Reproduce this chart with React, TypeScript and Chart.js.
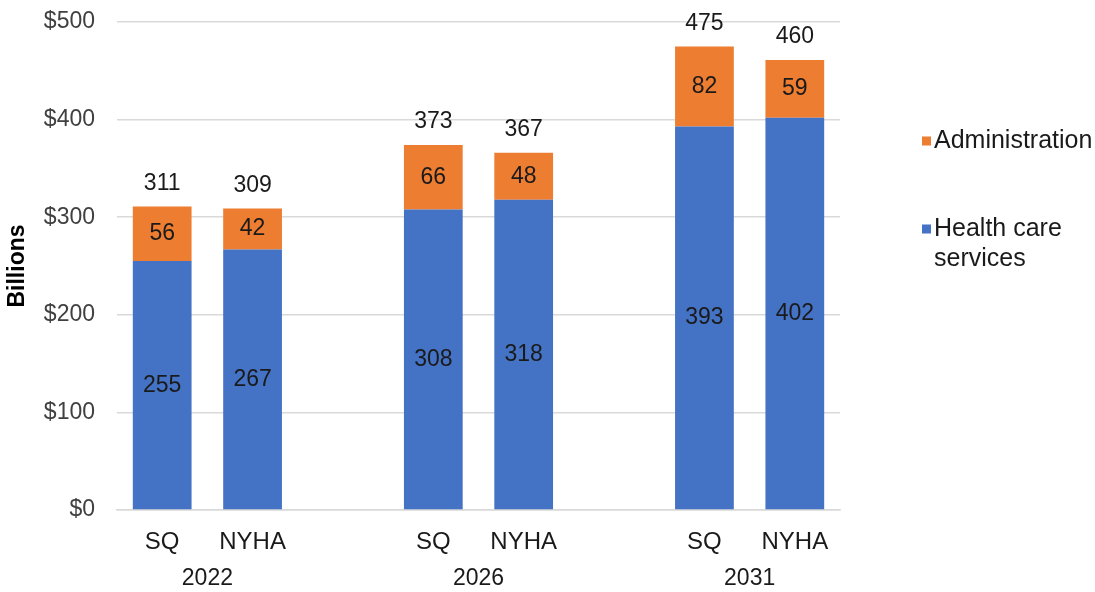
import React, { useEffect, useRef } from 'react';
import { Chart, registerables } from 'chart.js';

Chart.register(...registerables);

const categories = ['SQ', 'NYHA', '', 'SQ', 'NYHA', '', 'SQ', 'NYHA'];
const years = ['2022', '2026', '2031'];
const yearSlots = [[0, 1], [3, 4], [6, 7]];
const healthCare = [255, 267, null, 308, 318, null, 393, 402];
const administration = [56, 42, null, 66, 48, null, 82, 59];
const totals = [311, 309, null, 373, 367, null, 475, 460];
const yTicks = [0, 100, 200, 300, 400, 500];

const BLUE = '#4472C4';
const ORANGE = '#ED7D31';
const FONT = '"Liberation Sans", Arial, sans-serif';
const TEXT = '#1a1a1a';

export default function App() {
  const ref = useRef<HTMLCanvasElement>(null);

  useEffect(() => {
    const canvas = ref.current!;

    const labelsPlugin = {
      id: 'labels',
      afterDatasetsDraw(chart: any) {
        const ctx = chart.ctx;
        ctx.save();
        ctx.font = `23px ${FONT}`;
        ctx.fillStyle = TEXT;
        ctx.textAlign = 'center';
        ctx.textBaseline = 'middle';
        chart.data.datasets.forEach((ds: any, di: number) => {
          const meta = chart.getDatasetMeta(di);
          meta.data.forEach((bar: any, i: number) => {
            const v = ds.data[i];
            if (v == null) return;
            const p = bar.getProps(['x', 'y', 'base'], true);
            ctx.fillText(String(v), p.x, (p.y + p.base) / 2);
          });
        });
        const topMeta = chart.getDatasetMeta(1);
        totals.forEach((t, i) => {
          if (t == null) return;
          const p = topMeta.data[i].getProps(['x', 'y'], true);
          ctx.fillText(String(t), p.x, p.y - 23);
        });
        const xs = chart.scales.x;
        years.forEach((yr, k) => {
          const [a, b] = yearSlots[k];
          const cx = (xs.getPixelForValue(a) + xs.getPixelForValue(b)) / 2;
          ctx.fillText(yr, cx, 579);
        });
        ctx.restore();
      },
      afterDraw(chart: any) {
        const ctx = chart.ctx;
        ctx.save();
        ctx.font = `25px ${FONT}`;
        ctx.textAlign = 'left';
        ctx.textBaseline = 'middle';
        const items = [
          { color: ORANGE, lines: ['Administration'], y: 141 },
          { color: BLUE, lines: ['Health care', 'services'], y: 229 },
        ];
        items.forEach((it) => {
          ctx.fillStyle = it.color;
          ctx.fillRect(922, it.y - 4.5, 9, 9);
          ctx.fillStyle = TEXT;
          it.lines.forEach((ln, j) => ctx.fillText(ln, 934, it.y + j * 30));
        });
        ctx.restore();
      },
    };

    const chart = new Chart(canvas, {
      type: 'bar',
      data: {
        labels: categories,
        datasets: [
          {
            label: 'Health care services',
            data: healthCare,
            backgroundColor: BLUE,
            barPercentage: 0.65,
            categoryPercentage: 1,
          },
          {
            label: 'Administration',
            data: administration,
            backgroundColor: ORANGE,
            barPercentage: 0.65,
            categoryPercentage: 1,
          },
        ],
      },
      options: {
        responsive: false,
        animation: false,
        layout: { padding: { top: 22, right: 255, left: 0, bottom: 0 } },
        plugins: {
          legend: { display: false },
          tooltip: { enabled: false },
        },
        scales: {
          x: {
            stacked: true,
            grid: { display: false },
            border: { display: true, color: '#d9d9d9', width: 1.5 },
            ticks: {
              font: { family: FONT, size: 24 },
              color: TEXT,
              padding: 10,
              autoSkip: false,
              maxRotation: 0,
            },
            afterFit(scale: any) {
              scale.height = 82;
              scale.paddingLeft = 0;
              scale.paddingRight = 0;
            },
          },
          y: {
            stacked: true,
            min: 0,
            max: 500,
            afterBuildTicks(scale: any) {
              scale.ticks = yTicks.map((v) => ({ value: v }));
            },
            grid: { color: '#d9d9d9', lineWidth: 1.5, drawTicks: false },
            border: { display: false },
            ticks: {
              font: { family: FONT, size: 23 },
              color: '#404040',
              padding: 22,
              callback: (v: any) => '$' + v,
            },
            title: {
              display: true,
              text: 'Billions',
              font: { family: FONT, size: 23, weight: 'bold' },
              color: '#000',
              padding: { top: 4, bottom: 0 },
            },
            afterFit(scale: any) {
              scale.width = 117;
              scale.paddingTop = 0;
              scale.paddingBottom = 0;
            },
          },
        },
      },
      plugins: [labelsPlugin],
    });

    return () => chart.destroy();
  }, []);

  return (
    <div style={{ position: 'fixed', left: 0, top: 0, width: 1095, height: 592, background: '#fff' }}>
      <canvas ref={ref} width={1095} height={592} style={{ display: 'block' }} />
    </div>
  );
}
